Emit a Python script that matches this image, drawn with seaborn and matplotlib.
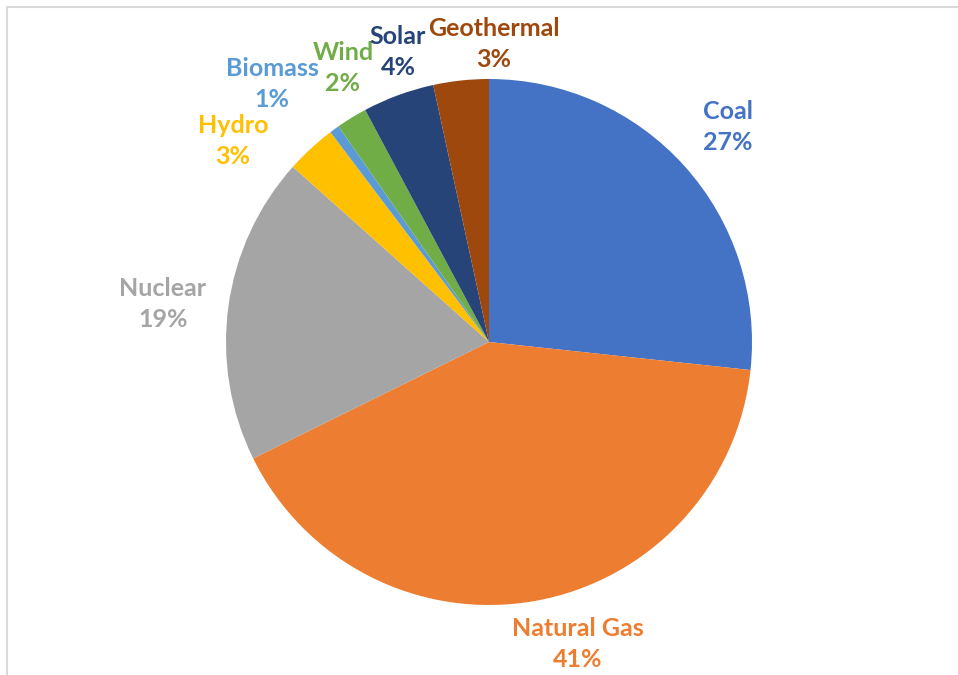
import matplotlib
matplotlib.use("Agg")
import matplotlib.pyplot as plt
import seaborn as sns
from matplotlib.lines import Line2D

sources = ["Coal", "Natural Gas", "Nuclear", "Hydro", "Biomass", "Wind", "Solar", "Geothermal"]
shares = [26.7, 41.0, 18.9, 3.1, 0.6, 1.9, 4.4, 3.4]
pct_labels = ["27%", "41%", "19%", "3%", "1%", "2%", "4%", "3%"]
colors = ["#4472C4", "#ED7D31", "#A5A5A5", "#FFC000", "#5B9BD5", "#70AD47", "#264478", "#9E480E"]

# label anchor positions in pixel layout (x, y from top)
label_pos = [(728, 127), (578, 644), (163, 304), (233, 141), (272, 84), (343, 68), (398, 52), (494, 44)]

sns.set_theme(style="white")
plt.rcParams['font.family'] = ['Lato', 'DejaVu Sans']

W, H = 958, 675
fig = plt.figure(figsize=(W / 100, H / 100), dpi=100)
ax = fig.add_axes([0, 0, 1, 1])
ax.set_xlim(0, W)
ax.set_ylim(0, H)
ax.axis("off")

cx, cy, r = 489, H - 342, 263
ax.pie(shares, colors=colors, startangle=90, counterclock=False,
       center=(cx, cy), radius=r, wedgeprops=dict(linewidth=0))
ax.set_xlim(0, W)
ax.set_ylim(0, H)
ax.set_aspect("equal")

for name, pct, col, (x, y) in zip(sources, pct_labels, colors, label_pos):
    ax.text(x, H - y, f"{name}\n{pct}", color=col, ha="center", va="center",
            fontsize=18, fontweight="bold", linespacing=1.42)

# chart frame (top and left edges visible)
fig.add_artist(Line2D([7 / W, 1], [1 - 7 / H, 1 - 7 / H], color="#D9D9D9", lw=1.5, transform=fig.transFigure))
fig.add_artist(Line2D([7 / W, 7 / W], [0, 1 - 7 / H], color="#D9D9D9", lw=1.5, transform=fig.transFigure))

fig.savefig("out.png", dpi=100)
